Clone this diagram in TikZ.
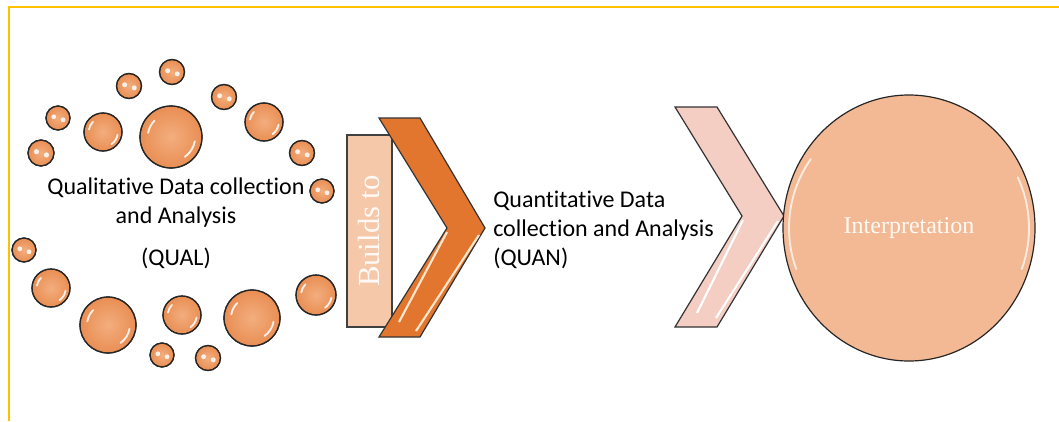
\documentclass[tikz,border=0pt]{standalone}
\usepackage{fontspec}
\setmainfont[Ligatures=NoCommon]{Carlito}
\newfontfamily\serifface{Liberation Serif}
\definecolor{frameyellow}{RGB}{255,192,0}
\definecolor{bubinner}{RGB}{243,174,126}
\definecolor{bubouter}{RGB}{233,142,84}
\definecolor{quanorange}{RGB}{226,118,46}
\definecolor{buildsfill}{RGB}{246,200,170}
\definecolor{interpfill}{RGB}{243,185,148}
\definecolor{pinkfill}{RGB}{244,205,195}
\tikzset{
  bubble/.style={draw=black!85, line width=0.9pt, inner color=bubinner, outer color=bubouter},
  shine/.style={white, line width=1.4pt, line cap=round, opacity=0.85},
  bodytext/.style={font=\fontsize{18}{22}\selectfont, inner sep=0.75pt},
  serifwhite/.style={font=\serifface\fontsize{18}{21}\selectfont, text=white!96!orange}
}
\begin{document}
\begin{tikzpicture}[x=0.75pt,y=0.75pt,yscale=-1,xscale=1]
\useasboundingbox (0,0) rectangle (1059,421);

%Frame lines
\draw [color=frameyellow, line width=1.5pt] (9,421) -- (9,7) -- (1059,7) ;

%Shapes: small bubbles
\foreach \x/\y/\r in {41/153/13, 58/118/12, 129/86/12.5, 172/72/12.5, 224/97/12.5, 302/153/12.5, 322/191/12, 24/250/12, 162/355/12, 208/358/12.5}
{
  \shade [bubble] (\x,\y) circle [radius=\r] ;
  \draw [draw=black!85, line width=0.9pt] (\x,\y) circle [radius=\r] ;
  \fill [white, opacity=0.85] (\x-0.35*\r,\y-0.1*\r) circle [radius=0.2*\r] ;
  \fill [white, opacity=0.85] (\x+0.42*\r,\y+0.15*\r) circle [radius=0.2*\r] ;
}
%Shapes: big bubbles
\foreach \x/\y/\r in {103/132/19, 171/137/31, 264/122/19, 51/288/19, 108/325/28, 182/315/19, 252/318/28, 316/295/20}
{
  \shade [bubble] (\x,\y) circle [radius=\r] ;
  \draw [draw=black!85, line width=0.9pt] (\x,\y) circle [radius=\r] ;
  \draw [shine] (\x,\y) ++(10:0.78*\r) arc (10:55:0.78*\r) ;
  \draw [shine] (\x,\y) ++(190:0.75*\r) arc (190:225:0.75*\r) ;
}

% Text Node
\node [bodytext, align=center] (qual) at (176,223) {Qualitative Data collection\\and Analysis\\[9pt](QUAL)};

%Shape: Builds to box
\node [draw=black!75, line width=0.9pt, fill=buildsfill, rotate=90, minimum width=144pt, minimum height=33.75pt, serifwhite, font=\serifface\fontsize{23}{26}\selectfont, inner sep=0pt] (builds) at (369.5,231) {Builds to};

%Shape: orange chevron
\draw [draw=black!80, line width=0.9pt, fill=quanorange] (379,118) -- (420,118) -- (485,228) -- (420,337) -- (379,337) -- (447,228) -- cycle ;
\draw [white!80!orange, line width=1.6pt] (447,232) -- (399,322) ;
\draw [white!80!orange, line width=1.6pt] (479,235) -- (416,331) ;

% Text Node
\node [bodytext, anchor=west, align=left] (quan) at (492,230) {Quantitative Data\\collection and Analysis\\(QUAN)};

%Shape: pink chevron
\draw [draw=black!80, line width=0.9pt, fill=pinkfill] (675,107) -- (717,107) -- (784,216) -- (717,327) -- (675,327) -- (742,216) -- cycle ;
\draw [white, line width=1.6pt] (743,220) -- (697,313) ;
\draw [white, line width=1.6pt] (778,221) -- (716,318) ;

%Shape: Interpretation circle
\draw [draw=black!85, line width=0.9pt, fill=interpfill] (909,228) circle [x radius=126, y radius=133] ;
\draw [shine, opacity=0.7] (909,228) ++(160:120) arc (160:215:120) ;
\draw [shine, opacity=0.7] (909,228) ++(20:120) arc (20:-25:120) ;
\node [serifwhite] (interp) at (909,228) {Interpretation};

\end{tikzpicture}
\end{document}
